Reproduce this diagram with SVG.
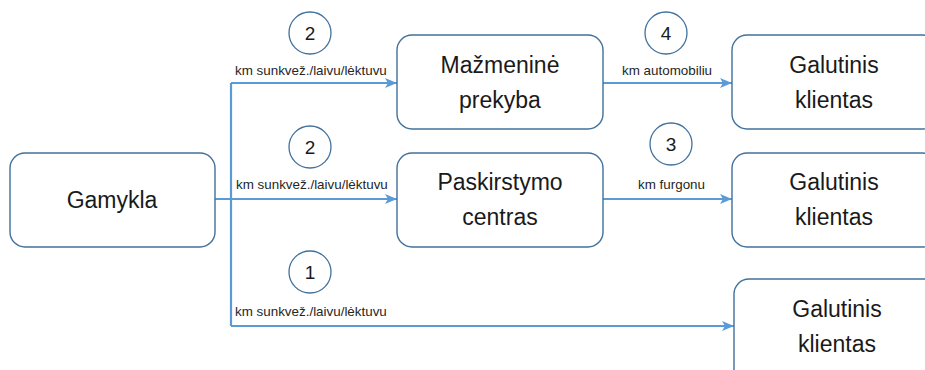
<svg xmlns="http://www.w3.org/2000/svg" width="925" height="370" viewBox="0 0 925 370">
  <style>
    .box { fill: #ffffff; stroke: #41719c; stroke-width: 1.4; }
    .num { fill: #ffffff; stroke: #41719c; stroke-width: 1.3; }
    .big { font-family: "Liberation Sans", Arial, sans-serif; font-size: 23px; fill: #1a1a1a; text-anchor: middle; }
    .digit { font-family: "Liberation Sans", Arial, sans-serif; font-size: 19px; fill: #1a1a1a; text-anchor: middle; }
    .lbl { font-family: "Liberation Sans", Arial, sans-serif; font-size: 13.4px; fill: #262626; }
    .link { fill: none; stroke: #5b9bd5; stroke-width: 2.2; }
  </style>
  <defs>
    <marker id="arrow" markerUnits="userSpaceOnUse" markerWidth="14" markerHeight="12" refX="12" refY="6" orient="auto">
      <path d="M0,1 L12,6 L0,11 L3,6 Z" fill="#5b9bd5"/>
    </marker>
  </defs>

  <rect width="925" height="370" fill="#ffffff"/>

  <!-- connectors -->
  <g id="connectors">
    <path class="link" d="M231,83 V326"/>
    <path class="link" d="M231,83 H397" marker-end="url(#arrow)"/>
    <path class="link" d="M215,199 H397" marker-end="url(#arrow)"/>
    <path class="link" d="M231,326 H734" marker-end="url(#arrow)"/>
    <path class="link" d="M603,83 H732" marker-end="url(#arrow)"/>
    <path class="link" d="M603,199 H732" marker-end="url(#arrow)"/>
  </g>

  <!-- connector labels and step numbers -->
  <g id="labels">
    <circle class="num" cx="310" cy="33" r="21"/>
    <text class="digit" x="310" y="40">2</text>
    <text class="lbl" x="235" y="75">km sunkvež./laivu/lėktuvu</text>

    <circle class="num" cx="310" cy="147" r="21"/>
    <text class="digit" x="310" y="154">2</text>
    <text class="lbl" x="236" y="189">km sunkvež./laivu/lėktuvu</text>

    <circle class="num" cx="310" cy="272" r="21"/>
    <text class="digit" x="310" y="279">1</text>
    <text class="lbl" x="235" y="316">km sunkvež./laivu/lėktuvu</text>

    <circle class="num" cx="666" cy="33" r="21"/>
    <text class="digit" x="666" y="40">4</text>
    <text class="lbl" x="622" y="75">km automobiliu</text>

    <circle class="num" cx="671" cy="144" r="21"/>
    <text class="digit" x="671" y="151">3</text>
    <text class="lbl" x="638" y="189">km furgonu</text>
  </g>

  <!-- nodes -->
  <g id="gamykla">
    <rect class="box" x="10" y="153" width="205" height="94" rx="15"/>
    <text class="big" x="112" y="208">Gamykla</text>
  </g>
  <g id="mazmenine-prekyba">
    <rect class="box" x="397" y="35" width="206" height="94" rx="15"/>
    <text class="big" x="500" y="73">Mažmeninė</text>
    <text class="big" x="500" y="108">prekyba</text>
  </g>
  <g id="paskirstymo-centras">
    <rect class="box" x="397" y="153" width="206" height="94" rx="15"/>
    <text class="big" x="500" y="190">Paskirstymo</text>
    <text class="big" x="500" y="225">centras</text>
  </g>
  <g id="galutinis-klientas-1">
    <rect class="box" x="732" y="35" width="205" height="94" rx="15"/>
    <text class="big" x="834" y="73">Galutinis</text>
    <text class="big" x="834" y="108">klientas</text>
  </g>
  <g id="galutinis-klientas-2">
    <rect class="box" x="732" y="153" width="205" height="94" rx="15"/>
    <text class="big" x="834" y="190">Galutinis</text>
    <text class="big" x="834" y="225">klientas</text>
  </g>
  <g id="galutinis-klientas-3">
    <rect class="box" x="734" y="279" width="206" height="110" rx="15"/>
    <text class="big" x="837" y="317">Galutinis</text>
    <text class="big" x="837" y="352">klientas</text>
  </g>
</svg>
